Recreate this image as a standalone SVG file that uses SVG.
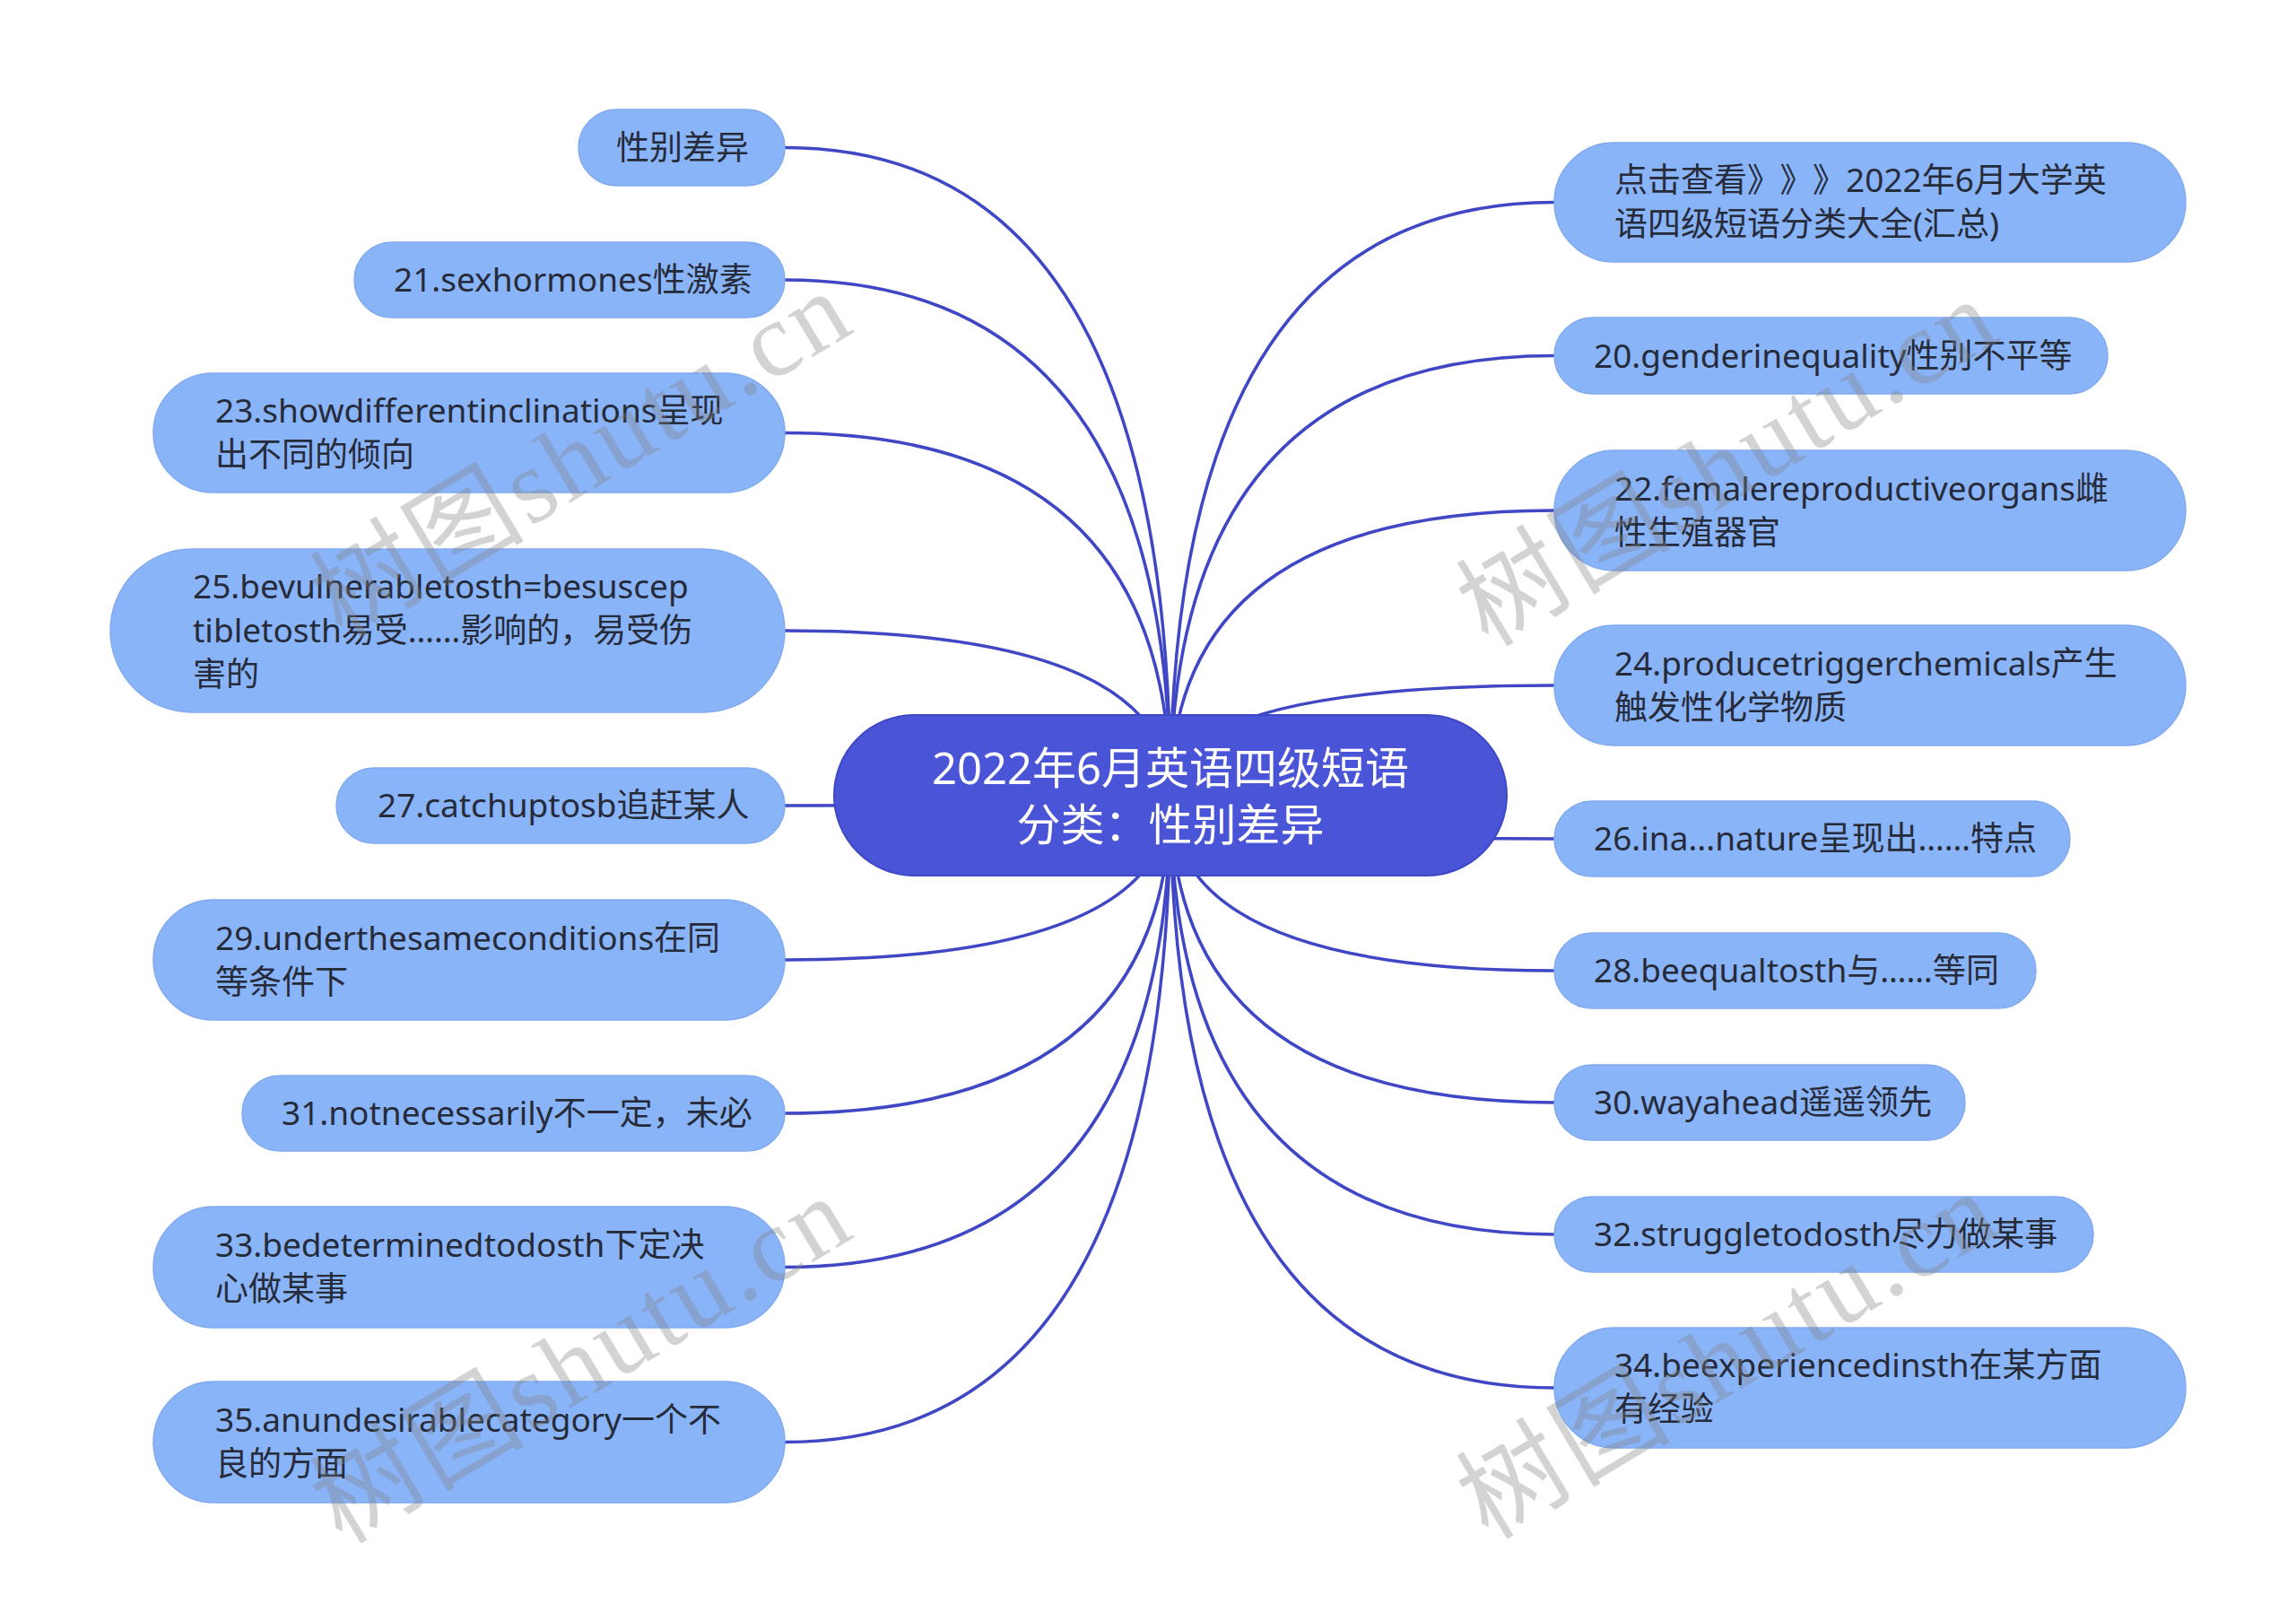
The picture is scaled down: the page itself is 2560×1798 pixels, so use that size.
<svg xmlns="http://www.w3.org/2000/svg" width="2560" height="1798" viewBox="0 0 2560 1798">
<style>
.bg{fill:#ffffff}
.edge{fill:none;stroke:#4047c5;stroke-width:3.5}
.root rect{fill:#4a54d6;stroke:#3f48c4;stroke-width:2}
.root text{fill:#ffffff;font-family:"Noto Sans","Noto Sans CJK SC",sans-serif;font-size:49px;text-anchor:middle}
.leaf rect{fill:#8ab4f8;stroke:#80aaf0;stroke-width:1.5}
.leaf text{fill:#262b3a;font-family:"Noto Sans","Noto Sans CJK SC",sans-serif;font-size:37px}
.wm{fill:#808080;fill-opacity:0.35;font-family:"Liberation Serif","Noto Sans CJK SC",serif;font-size:118px;text-anchor:middle;letter-spacing:4px}
</style>
<rect class="bg" x="0" y="0" width="2560" height="1798"/>
<g id="connectors">
<path class="edge" d="M1305,886.5 Q1305,164.5 875,164.5"/>
<path class="edge" d="M1305,886.5 Q1305,312 875,312"/>
<path class="edge" d="M1305,886.5 Q1305,482.5 875,482.5"/>
<path class="edge" d="M1305,886.5 Q1305,703 875,703"/>
<path class="edge" d="M1305,886.5 Q1305,898 875,898"/>
<path class="edge" d="M1305,886.5 Q1305,1070 875,1070"/>
<path class="edge" d="M1305,886.5 Q1305,1241 875,1241"/>
<path class="edge" d="M1305,886.5 Q1305,1412.5 875,1412.5"/>
<path class="edge" d="M1305,886.5 Q1305,1607.5 875,1607.5"/>
<path class="edge" d="M1305,886.5 Q1305,225.5 1733,225.5"/>
<path class="edge" d="M1305,886.5 Q1305,396.5 1733,396.5"/>
<path class="edge" d="M1305,886.5 Q1305,569 1733,569"/>
<path class="edge" d="M1305,886.5 Q1305,764 1733,764"/>
<path class="edge" d="M1305,886.5 Q1305,935 1733,935"/>
<path class="edge" d="M1305,886.5 Q1305,1082 1733,1082"/>
<path class="edge" d="M1305,886.5 Q1305,1229 1733,1229"/>
<path class="edge" d="M1305,886.5 Q1305,1376 1733,1376"/>
<path class="edge" d="M1305,886.5 Q1305,1547 1733,1547"/>
</g>
<g id="root" class="root">
<rect x="930" y="797" width="750" height="179" rx="89.5"/>
<text x="1305" y="874">2022年6月英语四级短语</text>
<text x="1305" y="937">分类：性别差异</text>
</g>
<g id="n-l0" class="leaf"><rect x="645" y="122" width="230" height="85" rx="42.5"/><text x="687" y="177.5">性别差异</text></g>
<g id="n-l1" class="leaf"><rect x="395" y="270" width="480" height="84" rx="42"/><text x="439" y="325">21.sexhormones性激素</text></g>
<g id="n-l2" class="leaf"><rect x="171" y="416" width="704" height="133" rx="66.5"/><text x="240" y="470.5">23.showdifferentinclinations呈现</text><text x="240" y="519.5">出不同的倾向</text></g>
<g id="n-l3" class="leaf"><rect x="123" y="612" width="752" height="182" rx="91"/><text x="215" y="667">25.bevulnerabletosth=besuscep</text><text x="215" y="716">tibletosth易受……影响的，易受伤</text><text x="215" y="765">害的</text></g>
<g id="n-l4" class="leaf"><rect x="375" y="856" width="500" height="84" rx="42"/><text x="421" y="911">27.catchuptosb追赶某人</text></g>
<g id="n-l5" class="leaf"><rect x="171" y="1003" width="704" height="134" rx="67"/><text x="240" y="1058.5">29.underthesameconditions在同</text><text x="240" y="1107.5">等条件下</text></g>
<g id="n-l6" class="leaf"><rect x="270" y="1199" width="605" height="84" rx="42"/><text x="314" y="1254">31.notnecessarily不一定，未必</text></g>
<g id="n-l7" class="leaf"><rect x="171" y="1345" width="704" height="135" rx="67.5"/><text x="240" y="1401">33.bedeterminedtodosth下定决</text><text x="240" y="1450">心做某事</text></g>
<g id="n-l8" class="leaf"><rect x="171" y="1540" width="704" height="135" rx="67.5"/><text x="240" y="1596">35.anundesirablecategory一个不</text><text x="240" y="1645">良的方面</text></g>
<g id="n-r0" class="leaf"><rect x="1733" y="159" width="704" height="133" rx="66.5"/><text x="1800" y="214">点击查看<tspan letter-spacing="18">》》</tspan>》2022年6月大学英</text><text x="1800" y="263">语四级短语分类大全(汇总)</text></g>
<g id="n-r1" class="leaf"><rect x="1733" y="354" width="617" height="85" rx="42.5"/><text x="1777" y="409.5">20.genderinequality性别不平等</text></g>
<g id="n-r2" class="leaf"><rect x="1733" y="502" width="704" height="134" rx="67"/><text x="1800" y="557.5">22.femalereproductiveorgans雌</text><text x="1800" y="606.5">性生殖器官</text></g>
<g id="n-r3" class="leaf"><rect x="1733" y="697" width="704" height="134" rx="67"/><text x="1800" y="752.5">24.producetriggerchemicals产生</text><text x="1800" y="801.5">触发性化学物质</text></g>
<g id="n-r4" class="leaf"><rect x="1733" y="893" width="575" height="84" rx="42"/><text x="1777" y="948">26.ina...nature呈现出……特点</text></g>
<g id="n-r5" class="leaf"><rect x="1733" y="1040" width="537" height="84" rx="42"/><text x="1777" y="1095">28.beequaltosth与……等同</text></g>
<g id="n-r6" class="leaf"><rect x="1733" y="1187" width="458" height="84" rx="42"/><text x="1777" y="1242">30.wayahead遥遥领先</text></g>
<g id="n-r7" class="leaf"><rect x="1733" y="1334" width="601" height="84" rx="42"/><text x="1777" y="1389">32.struggletodosth尽力做某事</text></g>
<g id="n-r8" class="leaf"><rect x="1733" y="1480" width="704" height="134" rx="67"/><text x="1800" y="1535">34.beexperiencedinsth在某方面</text><text x="1800" y="1584">有经验</text></g>
<g id="watermarks">
<text class="wm" transform="translate(649,506) rotate(-31)" x="0" y="40">树图shutu.cn</text>
<text class="wm" transform="translate(1927,515) rotate(-31)" x="0" y="40">树图shutu.cn</text>
<text class="wm" transform="translate(649,1515) rotate(-31)" x="0" y="40">树图shutu.cn</text>
<text class="wm" transform="translate(1927,1510) rotate(-31)" x="0" y="40">树图shutu.cn</text>
</g>
</svg>
